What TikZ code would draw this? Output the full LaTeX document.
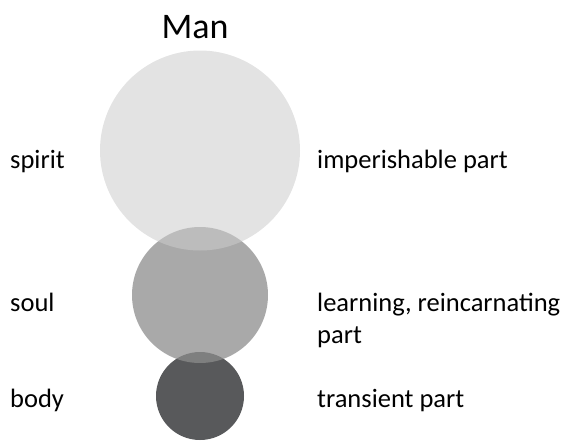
\documentclass[tikz,border=0pt]{standalone}
\usepackage{fontspec}
\setmainfont{Carlito}
\definecolor{bodygray}{HTML}{58595B}
\definecolor{soulgray}{gray}{0.55}
\definecolor{spiritgray}{gray}{0.80}
\begin{document}
\begin{tikzpicture}[x=1pt,y=-1pt,
	txt/.style={anchor=base west,inner sep=0pt,align=left,font=\fontsize{26.5}{32}\selectfont},
	part/.style={circle,inner sep=0pt,draw=none}]
	\useasboundingbox (0,0) rectangle (566,440);
	%CIRCLES
	\node[part,minimum size=88pt,fill=bodygray]  (body)   at (200,396) {};
	\node[part,minimum size=136pt,fill=soulgray,fill opacity=0.745] (soul) at (200,295) {};
	\node[part,minimum size=200pt,fill=spiritgray,fill opacity=0.55] (spirit) at (200,150.5) {};
	%TITLE
	\node[anchor=base,inner sep=0pt,font=\fontsize{36}{40}\selectfont] (title) at (195,38) {Man};
	%LEFT LABELS
	\node[txt] (lspirit) at (10,168) {spirit};
	\node[txt] (lsoul)   at (10,311) {soul};
	\node[txt] (lbody)   at (10,407) {body};
	%RIGHT LABELS
	\node[txt] (rspirit) at (317,168) {imperishable part};
	\node[txt] (rsoul)   at (317,343) {learning, reincarnating\\part}; %base = last line
	\node[txt] (rbody)   at (317,407) {transient part};
\end{tikzpicture}
\end{document}
